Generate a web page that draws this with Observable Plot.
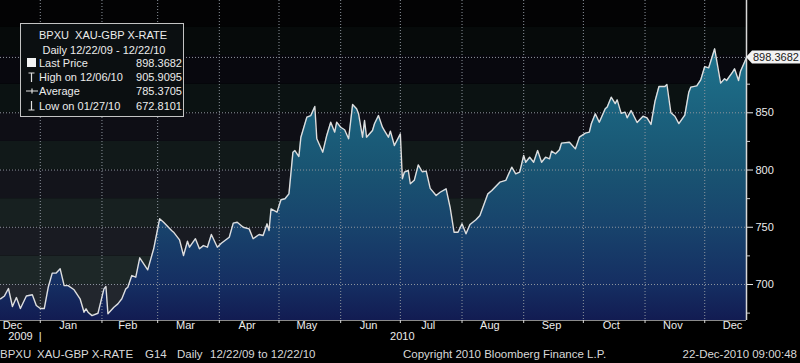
<!DOCTYPE html>
<html>
<head>
<meta charset="utf-8">
<script src="https://cdn.jsdelivr.net/npm/d3@7"></script>
<script src="https://cdn.jsdelivr.net/npm/@observablehq/plot@0.6"></script>
<style>
html,body{margin:0;padding:0;background:#000;}
#root{width:800px;height:363px;overflow:hidden;background:#000;}
#root svg{display:block;}
</style>
</head>
<body>
<div id="root"></div>
<script>
// ---------- data ----------
const dates = [
"2009-12-12","2009-12-14","2009-12-16","2009-12-18","2009-12-20","2009-12-22","2009-12-25","2009-12-28","2009-12-30",
"2010-01-01","2010-01-03","2010-01-05","2010-01-07","2010-01-09","2010-01-11","2010-01-13","2010-01-15","2010-01-18","2010-01-21","2010-01-23","2010-01-24","2010-01-25","2010-01-27","2010-01-30",
"2010-02-02","2010-02-03","2010-02-04","2010-02-07","2010-02-09","2010-02-11","2010-02-13","2010-02-14","2010-02-16","2010-02-18","2010-02-20","2010-02-24","2010-02-27",
"2010-03-02","2010-03-04","2010-03-08","2010-03-09","2010-03-12","2010-03-14","2010-03-16","2010-03-17","2010-03-20","2010-03-22","2010-03-24","2010-03-26","2010-03-28","2010-03-31",
"2010-04-02","2010-04-06","2010-04-08","2010-04-10","2010-04-13","2010-04-16","2010-04-18","2010-04-21","2010-04-23","2010-04-25","2010-04-26","2010-04-27","2010-04-30",
"2010-05-02","2010-05-04","2010-05-06","2010-05-08","2010-05-09","2010-05-11","2010-05-12","2010-05-15","2010-05-17","2010-05-19","2010-05-20","2010-05-23","2010-05-25","2010-05-27","2010-05-29","2010-05-30",
"2010-06-01","2010-06-03","2010-06-05","2010-06-07","2010-06-09","2010-06-10","2010-06-12","2010-06-13","2010-06-14","2010-06-17","2010-06-18","2010-06-20","2010-06-22","2010-06-23","2010-06-25","2010-06-26","2010-06-28",
"2010-07-01","2010-07-02","2010-07-03","2010-07-05","2010-07-06","2010-07-08","2010-07-10","2010-07-12","2010-07-14","2010-07-16","2010-07-19","2010-07-21","2010-07-24","2010-07-26","2010-07-28","2010-07-30",
"2010-08-01","2010-08-03","2010-08-05","2010-08-08","2010-08-10","2010-08-14","2010-08-16","2010-08-20","2010-08-23","2010-08-26","2010-08-28","2010-08-30",
"2010-09-01","2010-09-02","2010-09-04","2010-09-06","2010-09-08","2010-09-10","2010-09-12","2010-09-14","2010-09-15","2010-09-17","2010-09-19","2010-09-20","2010-09-24","2010-09-27","2010-09-29",
"2010-10-02","2010-10-04","2010-10-05","2010-10-07","2010-10-09","2010-10-12","2010-10-13","2010-10-15","2010-10-17","2010-10-18","2010-10-20","2010-10-22","2010-10-23","2010-10-25","2010-10-28","2010-10-31",
"2010-11-02","2010-11-04","2010-11-06","2010-11-08","2010-11-11","2010-11-12","2010-11-14","2010-11-16","2010-11-18","2010-11-21","2010-11-23","2010-11-24","2010-11-27","2010-11-29",
"2010-12-01","2010-12-03","2010-12-06","2010-12-09","2010-12-11","2010-12-12","2010-12-15","2010-12-16","2010-12-18","2010-12-19","2010-12-21","2010-12-22"
];
const prices = [
687.5,690,696.5,680.8,688.6,679,690,691,681.6,
679,679,697.6,709.9,710,713.7,699,699,695.4,687.5,675.8,678.8,675.8,672.8101,674.9,
696.2,698.3,674.4,680.2,683.1,687.5,696.2,697.6,707.8,706.4,723.3,712.8,731.2,
757.4,754.4,747.2,745.7,739,725.3,737.8,732.6,740,731.2,734,732.6,743.7,732.6,
736,741.3,753.6,754.4,750,748.6,740,743.7,742.8,753,747.2,766.1,763.2,
774,774.9,779.2,815.6,817,811.8,828.7,846.2,847.6,855.5,827.3,815.6,830.2,841.8,833.1,841.8,
837.4,835.2,827.3,857.3,853.5,849.1,828.7,843.3,828.7,834.5,840.4,847.6,837.4,834.5,828.7,834,821.4,
831.6,792.3,798.1,799.6,788,791,804.5,798.5,799,784,777.8,780.6,783.6,767.5,745.7,745.7,
753,744.3,752.4,756.5,760.3,779.2,782.1,789.4,790.9,802.5,796.7,798.1,
812.7,806.8,811.2,806.8,817,806.8,811.2,809.8,816.5,814.2,817.7,823.5,824.3,818.5,828.7,
832.2,833.1,840.4,849.1,841.8,853.5,855,863.6,858,861.3,849.5,850.6,845.6,852,841.5,847,
845.6,839.8,860,873,873,874.7,850,847,840.6,848,868,872.4,873.5,878.8,
890.4,889.3,905.9095,875.9,879.7,878.2,885.5,888.4,878.2,886.3,894.2,898.3682
];
const monthStarts = ["2010-01-01","2010-02-01","2010-03-01","2010-04-01","2010-05-01","2010-06-01","2010-07-01","2010-08-01","2010-09-01","2010-10-01","2010-11-01","2010-12-01"];
const monthNames = ["Dec","Jan","Feb","Mar","Apr","May","Jun","Jul","Aug","Sep","Oct","Nov","Dec"];
const monthLabelDates = ["2009-12-18","2010-01-15","2010-02-14","2010-03-15","2010-04-15","2010-05-15","2010-06-15","2010-07-15","2010-08-15","2010-09-15","2010-10-15","2010-11-15","2010-12-15"];
const yearNames = ["2009","|","2010"];
const yearLabelDates = ["2009-12-22","2010-01-01","2010-07-02"];
const majorTicks = [700,750,800,850];
const minorTicks = [675,725,775,825,875];
const bandEdges = [650,675,700,725,750,775,800,825,850,875,900,925];
const securityName = "BPXU  XAU-GBP X-RATE";
const periodText = "Daily 12/22/09 - 12/22/10";
const statLabels = ["Last Price","High on 12/06/10","Average","Low on 01/27/10"];
const statValues = [898.3682, 905.9095, 785.3705, 672.8101];
const footerLeftTexts = ["BPXU","XAU-GBP X-RATE","G14","Daily","12/22/09 to 12/22/10","Copyright 2010 Bloomberg Finance L.P."];
const footerRightText = "22-Dec-2010 09:00:48";
const domainStart = "2009-12-12", domainEnd = "2010-12-22";
const yDomain = [668.55, 948.1];

// ---------- build ----------
const FONT = "'Liberation Sans', Arial, sans-serif";
const table = dates.map((d, i) => ({date: new Date(d), price: prices[i]}));
const x0 = new Date(domainStart), x1 = new Date(domainEnd);
const bandPalette = ["#26302f","#22262d","#1d2727","#191b22","#172020","#13141b","#111919","#0e0e15","#0b1212","#08080e","#060a0a","#030304"];
const bands = bandEdges.map((lo, i) => ({lo, hi: lo + 25, color: bandPalette[i]}));
const monthLabels = monthNames.map((n, i) => ({name: n, date: new Date(monthLabelDates[i])}));
const yearLabels = yearNames.map((n, i) => ({name: n, date: new Date(yearLabelDates[i])}));
const monthTickDates = monthStarts.map(d => new Date(d));
const gridColor = "#8e959e";

const chart = Plot.plot({
  width: 800, height: 345,
  marginLeft: 0, marginRight: 54, marginTop: 0, marginBottom: 25,
  style: {background: "#000", fontFamily: FONT, fontSize: "11px", color: "#e8e8e8", overflow: "visible"},
  x: {type: "utc", domain: [x0, x1], axis: null},
  y: {domain: yDomain, axis: null},
  marks: [
    Plot.rect(bands, {x1: () => x0, x2: () => x1, y1: "lo", y2: "hi", fill: "color", clip: true}),
    Plot.areaY(table, {x: "date", y1: () => yDomain[0], y2: "price", fill: "url(#fillGrad)"}),
    Plot.ruleX(monthTickDates, {stroke: gridColor, strokeDasharray: "1,2"}),
    Plot.ruleY([...majorTicks, statValues[0]], {stroke: gridColor, strokeDasharray: "1,2"}),
    Plot.line(table, {x: "date", y: "price", stroke: "#dedede", strokeWidth: 1.4}),
    Plot.ruleY([yDomain[0]], {stroke: "#8a8a8a"}),
    Plot.ruleX([x1], {stroke: "#d8d8d8", strokeWidth: 1.5}),
    Plot.axisY({ticks: majorTicks, anchor: "right", tickSize: 6, tickPadding: 3, label: null, stroke: "#e8e8e8", fill: "#ececec", fontSize: 11}),
    Plot.axisY({ticks: minorTicks, anchor: "right", tickSize: 3, tickFormat: () => "", label: null, stroke: "#d0d0d0"}),
    Plot.axisX({ticks: monthTickDates, anchor: "bottom", tickSize: 3, tickFormat: () => "", label: null, stroke: "#d8d8d8"}),
    Plot.text(monthLabels, {x: "date", text: "name", frameAnchor: "bottom", dy: 8, fill: "#ececec", fontSize: 11}),
    Plot.text(yearLabels, {x: "date", text: "name", frameAnchor: "bottom", dy: 19, fill: "#ececec", fontSize: 11})
  ]
});

const svg = d3.select(chart);
const xs = chart.scale("x"), ys = chart.scale("y");

// gradient for area fill
const defs = svg.insert("defs", ":first-child");
const grad = defs.append("linearGradient").attr("id", "fillGrad")
  .attr("gradientUnits", "userSpaceOnUse")
  .attr("x1", 0).attr("x2", 0)
  .attr("y1", ys.apply(yDomain[1])).attr("y2", ys.apply(yDomain[0]));
[[0, "#21809a"], [0.17, "#1e718b"], [0.35, "#1b627e"], [0.53, "#195472"], [0.71, "#18436c"], [0.89, "#152e62"], [1, "#121c52"]]
  .forEach(([o, c]) => grad.append("stop").attr("offset", o).attr("stop-color", c));

// last price tag on the right axis
const xr = xs.apply(x1), yp = ys.apply(statValues[0]);
const tag = svg.append("g");
tag.append("path")
  .attr("d", `M${xr},${yp} L${xr + 6},${yp - 6.5} L800,${yp - 6.5} L800,${yp + 6.5} L${xr + 6},${yp + 6.5} Z`)
  .attr("fill", "#f2f2f2");
tag.append("text").attr("x", xr + 7).attr("y", yp + 4).attr("text-anchor", "start")
  .attr("font-family", FONT).attr("font-size", 11).attr("fill", "#1a1a1a")
  .text(d3.format(".4f")(statValues[0]));

// legend box
const lg = svg.append("g").attr("font-family", FONT).attr("font-size", 11).attr("fill", "#ececec")
  .attr("text-anchor", "start").style("white-space", "pre");
lg.append("rect").attr("x", 20.5).attr("y", 23.5).attr("width", 163).attr("height", 93)
  .attr("fill", "#0b0f11").attr("stroke", "#c4c4c4");
lg.append("text").attr("x", 103).attr("y", 39).attr("text-anchor", "middle").text(securityName);
lg.append("text").attr("x", 104).attr("y", 54).attr("text-anchor", "middle").text(periodText);
const rowY = [67, 81, 95, 110];
statLabels.forEach((s, i) => {
  lg.append("text").attr("x", 39).attr("y", rowY[i]).attr("text-anchor", "start").text(s);
  lg.append("text").attr("x", 182).attr("y", rowY[i]).attr("text-anchor", "end").text(d3.format(".4f")(statValues[i]));
});
// legend icons
lg.append("rect").attr("x", 27).attr("y", 58).attr("width", 9).attr("height", 9).attr("fill", "#f4f4f4");
const ic = lg.append("g").attr("stroke", "#e0e0e0").attr("stroke-width", 1.2).attr("fill", "none");
ic.append("path").attr("d", "M28.5,73 L34.5,73 M31.5,73 L31.5,82");
ic.append("path").attr("d", "M26,91 L38,91 M32,88.5 L32,93.5");
ic.append("path").attr("d", "M28.5,110 L34.5,110 M31.5,101 L31.5,110");

// footer below the chart
const root = document.getElementById("root");
root.appendChild(chart);
const foot = d3.create("svg").attr("width", 800).attr("height", 18)
  .style("display", "block").style("background", "#000");
const footX = [0, 37, 145, 177, 210, 403];
footerLeftTexts.forEach((t, i) => {
  foot.append("text").attr("x", footX[i]).attr("y", 13)
    .attr("font-family", FONT).attr("font-size", 11.5).attr("fill", "#d8d8d8").text(t);
});
foot.append("text").attr("x", 797).attr("y", 13).attr("text-anchor", "end")
  .attr("font-family", FONT).attr("font-size", 11.5).attr("fill", "#d8d8d8").text(footerRightText);
root.appendChild(foot.node());
</script>
</body>
</html>
